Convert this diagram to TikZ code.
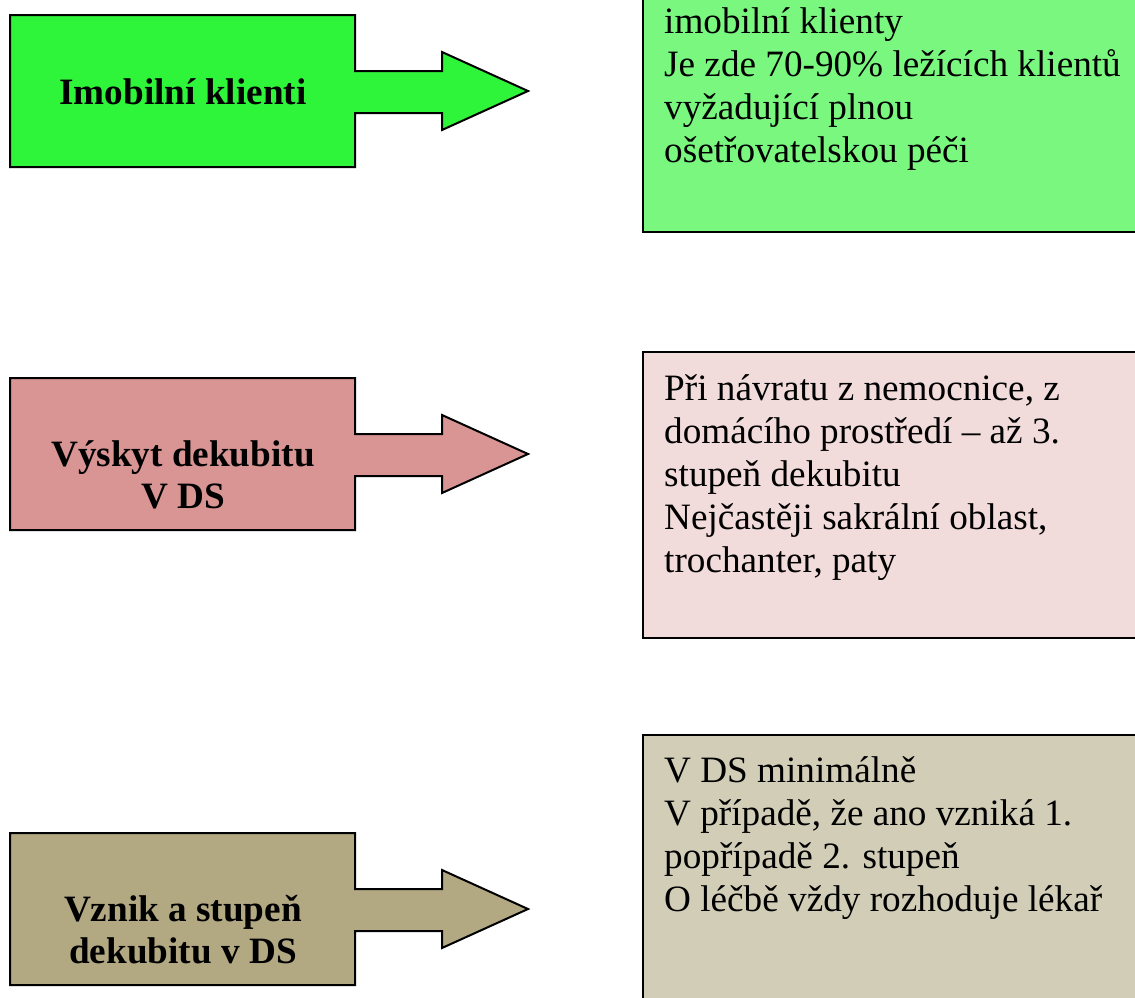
\documentclass[tikz,border=0pt]{standalone}
\usepackage{fontspec}
\setmainfont{Liberation Serif}

\definecolor{mobgreen}{RGB}{46,244,58}
\definecolor{mobgreenlight}{RGB}{122,247,127}
\definecolor{decpink}{RGB}{217,149,148}
\definecolor{decpinklight}{RGB}{242,219,219}
\definecolor{gradekhaki}{RGB}{178,169,131}
\definecolor{gradekhakilight}{RGB}{209,205,183}

% box with an arrow sticking out to the right (top-left corner at the origin)
\newcommand\pointershape{%
  (10,0) -- (355,0) -- (355,56) -- (442,56) -- (442,37) -- (528,76)
  -- (442,115) -- (442,98) -- (355,98) -- (355,152) -- (10,152) -- cycle}

\tikzset{
  outline/.style={draw=black, line width=2pt, line join=miter},
  titletext/.style={inner sep=0pt, align=center, anchor=north,
    font=\fontsize{37.2}{42}\selectfont\bfseries},
  bodytext/.style={inner sep=0pt, align=left, anchor=north west,
    font=\fontsize{37.2}{43}\selectfont},
}

\begin{document}
\begin{tikzpicture}[x=1pt, y=-1pt]
\useasboundingbox (0,0) rectangle (1135,997);
\clip (0,0) rectangle (1135,997);

% row 1: immobile clients
\begin{scope}[shift={(0,15)}]
  \path[outline, fill=mobgreen] \pointershape;
\end{scope}
\node[titletext] (imob) at (183,75) {\strut Imobilní klienti};
\path[outline, fill=mobgreenlight] (643,-10) rectangle (1150,232);
\node[bodytext] (imobinfo) at (664,3) {\strut imobilní klienty\\
  Je zde 70-90\% ležících klientů\\
  vyžadující plnou\\
  ošetřovatelskou péči};

% row 2: occurrence of pressure ulcers
\begin{scope}[shift={(0,378)}]
  \path[outline, fill=decpink] \pointershape;
\end{scope}
\node[titletext] (occur) at (183,437) {\strut Výskyt dekubitu\\V DS};
\path[outline, fill=decpinklight] (643,352) rectangle (1150,638);
\node[bodytext] (occurinfo) at (664,370) {\strut Při návratu z nemocnice, z\\
  domácího prostředí -- až 3.\\
  stupeň dekubitu\\
  Nejčastěji sakrální oblast,\\
  trochanter, paty};

% row 3: origin and grade of pressure ulcers
\begin{scope}[shift={(0,833)}]
  \path[outline, fill=gradekhaki] \pointershape;
\end{scope}
\node[titletext] (grade) at (183,892) {\strut Vznik a stupeň\\dekubitu v DS};
\path[outline, fill=gradekhakilight] (643,735) rectangle (1150,1010);
\node[bodytext] (gradeinfo) at (664,752) {\strut V DS minimálně\\
  V případě, že ano vzniká 1.\\
  popřípadě 2. stupeň\\
  O léčbě vždy rozhoduje lékař};
\end{tikzpicture}
\end{document}
